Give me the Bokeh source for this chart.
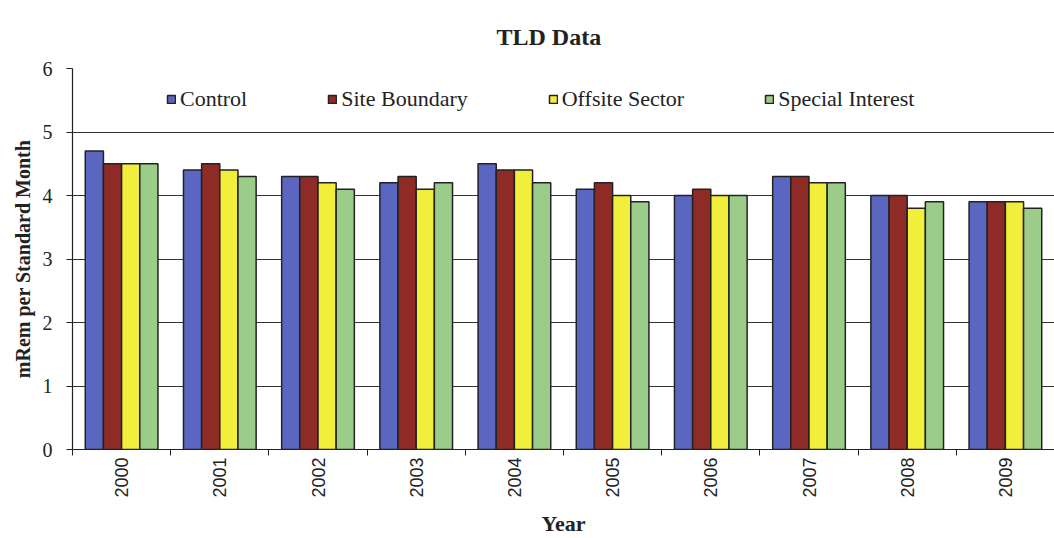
import math
from bokeh.plotting import figure
from bokeh.models import ColumnDataSource, Range1d, FixedTicker, Legend, LegendItem
from bokeh.transform import dodge
from bokeh.embed import file_html
from bokeh.resources import INLINE

years = ["2000", "2001", "2002", "2003", "2004", "2005", "2006", "2007", "2008", "2009"]
control = [4.7, 4.4, 4.3, 4.2, 4.5, 4.1, 4.0, 4.3, 4.0, 3.9]
site_boundary = [4.5, 4.5, 4.3, 4.3, 4.4, 4.2, 4.1, 4.3, 4.0, 3.9]
offsite_sector = [4.5, 4.4, 4.2, 4.1, 4.4, 4.0, 4.0, 4.2, 3.8, 3.9]
special_interest = [4.5, 4.3, 4.1, 4.2, 4.2, 3.9, 4.0, 4.2, 3.9, 3.8]
series_names = ["Control", "Site Boundary", "Offsite Sector", "Special Interest"]
colors = ["#5a66c0", "#8e2b26", "#f2ee3c", "#9ccc8a"]
y_ticks = [0, 1, 2, 3, 4, 5, 6]

n = len(years)
centers = [i + 0.5 for i in range(n)]
src = ColumnDataSource(dict(x=centers, c=control, s=site_boundary, o=offsite_sector, sp=special_interest))

SERIF = "Liberation Serif"
SANS = "Liberation Sans"

p = figure(width=1054, height=538, output_backend="svg", toolbar_location=None,
           x_range=Range1d(0, n), y_range=Range1d(0, 6),
           min_border_left=72, min_border_right=0, min_border_top=68, min_border_bottom=89,
           background_fill_color="white", border_fill_color="white")
p.outline_line_color = None

bw = 0.185
offsets = [-1.5 * bw, -0.5 * bw, 0.5 * bw, 1.5 * bw]
cols = ["c", "s", "o", "sp"]
renderers = []
for col, off, color in zip(cols, offsets, colors):
    r = p.vbar(x=dodge("x", off), top=col, width=bw, bottom=0, source=src,
               fill_color=color, line_color="#222222", line_width=1.5)
    renderers.append(r)

# title
p.title.text = "TLD Data"
p.title.text_font = SERIF
p.title.text_font_style = "bold"
p.title.text_font_size = "24px"
p.title.text_color = "#222222"
p.title.align = "left"
p.title.offset = 424
p.title.standoff = 38

# y axis
p.yaxis.ticker = FixedTicker(ticks=y_ticks)
p.yaxis.axis_label = "mRem per Standard Month"
p.yaxis.axis_label_text_font = SERIF
p.yaxis.axis_label_text_font_style = "bold"
p.yaxis.axis_label_text_font_size = "20px"
p.yaxis.axis_label_text_color = "#222222"
p.yaxis.axis_label_standoff = 6
p.yaxis.major_label_text_font = SERIF
p.yaxis.major_label_text_font_size = "20px"
p.yaxis.major_label_text_color = "#222222"
p.yaxis.major_label_standoff = 14
p.yaxis.major_tick_out = 6
p.yaxis.major_tick_in = 0
p.yaxis.minor_tick_line_color = None
p.yaxis.axis_line_color = "#222222"
p.yaxis.major_tick_line_color = "#222222"
p.yaxis.axis_line_width = 1.2

# x axis
p.xaxis.ticker = FixedTicker(ticks=centers, minor_ticks=[float(i) for i in range(n + 1)])
p.xaxis.major_label_overrides = {c: y for c, y in zip(centers, years)}
p.xaxis.major_label_orientation = math.pi / 2
p.xaxis.major_label_text_font = SANS
p.xaxis.major_label_text_font_size = "18px"
p.xaxis.major_label_text_color = "#222222"
p.xaxis.major_label_standoff = 2
p.xaxis.major_tick_line_color = None
p.xaxis.major_tick_out = 0
p.xaxis.major_tick_in = 0
p.xaxis.minor_tick_out = 6
p.xaxis.minor_tick_in = 0
p.xaxis.minor_tick_line_color = "#222222"
p.xaxis.axis_line_color = "#222222"
p.xaxis.axis_line_width = 1.2
p.xaxis.axis_label = "Year"
p.xaxis.axis_label_text_font = SERIF
p.xaxis.axis_label_text_font_style = "bold"
p.xaxis.axis_label_text_font_size = "22px"
p.xaxis.axis_label_text_color = "#222222"
p.xaxis.axis_label_standoff = 10

p.xgrid.grid_line_color = None
p.ygrid.ticker = FixedTicker(ticks=y_ticks)
p.ygrid.grid_line_color = "#333333"
p.ygrid.grid_line_width = 1.2

legend = Legend(items=[LegendItem(label=nm, renderers=[r]) for nm, r in zip(series_names, renderers)],
                orientation="horizontal", location=(94, 337),
                glyph_width=10, glyph_height=10, label_standoff=4, spacing=80,
                padding=0, margin=0, border_line_color=None, background_fill_alpha=0,
                label_text_font=SERIF, label_text_font_size="22px", label_text_color="#222222",
                label_height=22)
p.add_layout(legend)

open("out.html", "w").write(file_html(p, INLINE))
